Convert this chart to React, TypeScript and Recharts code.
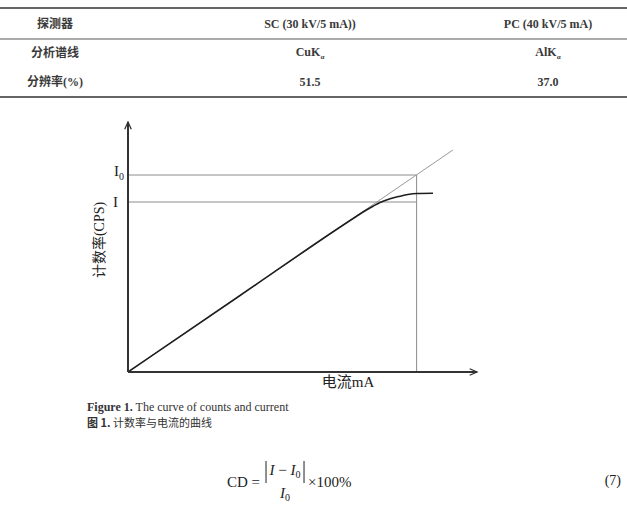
import React from 'react';
import { ComposedChart, Line, XAxis, YAxis, ReferenceLine } from 'recharts';

// ---- table content ----
const tableHeader = ['探测器', 'SC (30 kV/5 mA))', 'PC (40 kV/5 mA)'];
const tableRowLine = ['分析谱线', 'CuK', 'AlK'];
const tableRowRes = ['分辨率(%)', '51.5', '37.0'];

// ---- chart data (arbitrary units: current in mA, counts in CPS) ----
const currentDomain = [0, 10];
const countsDomain = [0, 10];
const measuredCurrentX = [0, 3.2, 6.2, 6.55, 6.82, 7.02, 7.22, 7.51, 7.79, 8.02, 8.28, 8.74];
const measuredCountsY = [0, 3.05, 5.91, 6.23, 6.47, 6.63, 6.78, 6.93, 7.03, 7.1, 7.14, 7.15];
const idealCurrentX = [0, 9.31];
const idealCountsY = [0, 8.88];
const I0Level = 7.88;
const ILevel = 6.8;
const markCurrent = 8.27;

const measured = measuredCurrentX.map((x, i) => ({ x, y: measuredCountsY[i] }));
const ideal = idealCurrentX.map((x, i) => ({ x, y: idealCountsY[i] }));

const serif = '"Liberation Serif", "Times New Roman", "Noto Sans CJK SC", serif';

function ArrowSegment(props: any) {
  const { x1, y1, x2, y2, stroke, strokeWidth } = props;
  const ang = Math.atan2(y2 - y1, x2 - x1);
  const L = 8;
  const w = 0.42;
  const ax = x2 - L * Math.cos(ang - w);
  const ay = y2 - L * Math.sin(ang - w);
  const bx = x2 - L * Math.cos(ang + w);
  const by = y2 - L * Math.sin(ang + w);
  return (
    <g>
      <line x1={x1} y1={y1} x2={x2} y2={y2} stroke={stroke} strokeWidth={strokeWidth} />
      <path d={`M${ax},${ay} L${x2},${y2} L${bx},${by}`} fill="none" stroke={stroke} strokeWidth={1.3} />
    </g>
  );
}

const txt = (
  left: number,
  top: number,
  content: React.ReactNode,
  style: React.CSSProperties = {},
  anchor: 'center' | 'left' | 'right' = 'center'
) => {
  const tx = anchor === 'center' ? '-50%' : anchor === 'left' ? '0' : '-100%';
  return (
    <div
      style={{
        position: 'absolute',
        left,
        top,
        transform: `translate(${tx}, -50%)`,
        whiteSpace: 'nowrap',
        lineHeight: 1,
        ...style,
      }}
    >
      {content}
    </div>
  );
};

const hr = (top: number, h: number, color: string) => (
  <div style={{ position: 'absolute', left: 0, width: 627, top, height: h, background: color }} />
);

export default function App() {
  const colX = [55, 310, 548];
  const rowY = [24, 53, 82];
  const tStyle: React.CSSProperties = { fontSize: 12, fontWeight: 'bold', color: '#3a3a3a', fontFamily: serif };
  const sub = (s: string) => (
    <span>
      {s}
      <span style={{ fontSize: 7, verticalAlign: -3 }}>α</span>
    </span>
  );
  return (
    <div
      style={{
        position: 'absolute',
        left: 0,
        top: 0,
        width: 627,
        height: 511,
        background: '#fff',
        fontFamily: serif,
        color: '#222',
        overflow: 'hidden',
      }}
    >
      {hr(7, 2, '#666')}
      {hr(38, 2, '#aaa')}
      {hr(96, 2, '#666')}
      {tableHeader.map((t, i) => txt(colX[i], rowY[0], t, tStyle))}
      {tableRowLine.map((t, i) => txt(colX[i], rowY[1], i === 0 ? t : sub(t), tStyle))}
      {tableRowRes.map((t, i) => txt(colX[i], rowY[2], t, tStyle))}

      <div style={{ position: 'absolute', left: 0, top: 0 }}>
        <ComposedChart
          width={627}
          height={511}
          margin={{ top: 122, left: 128, right: 150, bottom: 139 }}
        >
          <XAxis type="number" dataKey="x" domain={currentDomain} hide allowDataOverflow />
          <YAxis type="number" dataKey="y" domain={countsDomain} hide allowDataOverflow />
          <ReferenceLine
            segment={[{ x: 0, y: I0Level }, { x: markCurrent, y: I0Level }]}
            stroke="#8c8c8c"
            strokeWidth={1}
            ifOverflow="visible"
            label={(p: any) => (
              <text
                x={p.viewBox.x - 4}
                y={p.viewBox.y + 1}
                textAnchor="end"
                fontFamily={serif}
                fontSize={15}
                fill="#222"
              >
                I
                <tspan dy={4} fontSize={10}>
                  0
                </tspan>
              </text>
            )}
          />
          <ReferenceLine
            segment={[{ x: 0, y: ILevel }, { x: markCurrent, y: ILevel }]}
            stroke="#8c8c8c"
            strokeWidth={1}
            ifOverflow="visible"
            label={(p: any) => (
              <text
                x={p.viewBox.x - 10}
                y={p.viewBox.y + 5}
                textAnchor="end"
                fontFamily={serif}
                fontSize={15}
                fill="#222"
              >
                I
              </text>
            )}
          />
          <ReferenceLine
            segment={[{ x: markCurrent, y: 0 }, { x: markCurrent, y: I0Level }]}
            stroke="#8c8c8c"
            strokeWidth={1}
            ifOverflow="visible"
          />
          <Line
            data={ideal}
            dataKey="y"
            type="linear"
            stroke="#9a9a9a"
            strokeWidth={1}
            dot={false}
            activeDot={false}
            isAnimationActive={false}
          />
          <Line
            data={measured}
            dataKey="y"
            type="monotone"
            stroke="#1e1e1e"
            strokeWidth={1.6}
            dot={false}
            activeDot={false}
            isAnimationActive={false}
          />
          <ReferenceLine
            segment={[{ x: 0, y: 0 }, { x: currentDomain[1], y: 0 }]}
            stroke="#333"
            strokeWidth={2}
            ifOverflow="visible"
            shape={ArrowSegment}
          />
          <ReferenceLine
            segment={[{ x: 0, y: 0 }, { x: 0, y: countsDomain[1] }]}
            stroke="#333"
            strokeWidth={2}
            ifOverflow="visible"
            shape={ArrowSegment}
          />
        </ComposedChart>
      </div>

      {txt(348, 382, '电流mA', { fontSize: 15, color: '#222' })}
      <div
        style={{
          position: 'absolute',
          left: 100,
          top: 240,
          transform: 'translate(-50%, -50%) rotate(-90deg)',
          whiteSpace: 'nowrap',
          lineHeight: 1,
          fontSize: 14,
          color: '#222',
        }}
      >
        计数率(CPS)
      </div>

      {txt(
        87,
        407,
        <span>
          <b>Figure 1.</b> The curve of counts and current
        </span>,
        { fontSize: 12, color: '#333' },
        'left'
      )}
      {txt(
        87,
        423,
        <span style={{ fontFamily: '"Noto Sans CJK SC", sans-serif' }}>
          <b>图 1.</b> 计数率与电流的曲线
        </span>,
        { fontSize: 11, color: '#333' },
        'left'
      )}

      {txt(227, 482, 'CD =', { fontSize: 15, color: '#222' }, 'left')}
      {txt(
        285,
        472,
        <span
          style={{
            display: 'inline-block',
            borderLeft: '1px solid #222',
            borderRight: '1px solid #222',
            padding: '2px 3px 3px 3px',
          }}
        >
          <i>I</i> − <i>I</i>
          <span style={{ fontSize: 10, verticalAlign: -3 }}>0</span>
        </span>,
        { fontSize: 15, color: '#222' }
      )}
      {txt(
        285,
        494,
        <span>
          <i>I</i>
          <span style={{ fontSize: 10, verticalAlign: -3 }}>0</span>
        </span>,
        { fontSize: 15, color: '#222' }
      )}
      {txt(308, 482, '×100%', { fontSize: 15, color: '#222' }, 'left')}
      {txt(621, 481, '(7)', { fontSize: 14, color: '#222' }, 'right')}
    </div>
  );
}
